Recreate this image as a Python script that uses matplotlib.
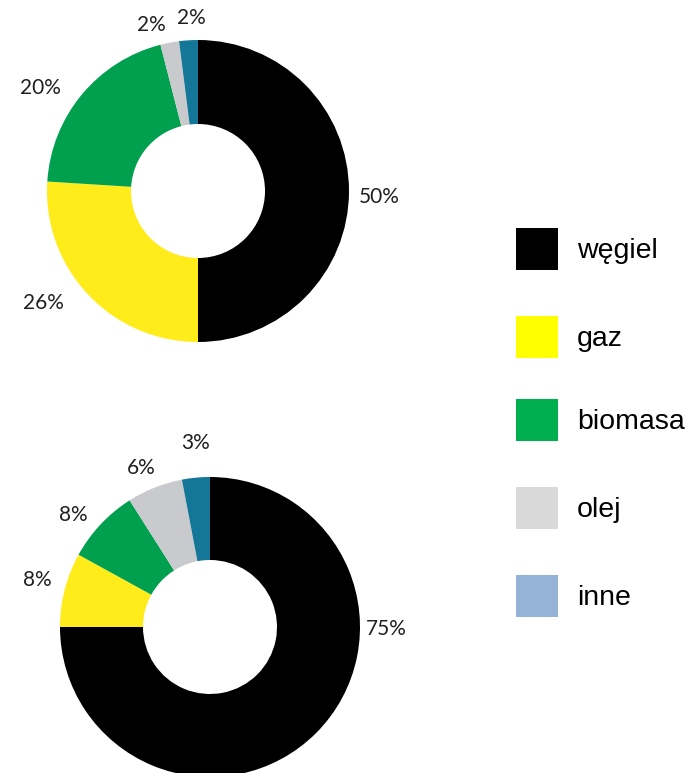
import matplotlib.pyplot as plt
from matplotlib.patches import Rectangle

# shares of fuels, clockwise from the top
fuels = ["węgiel", "gaz", "biomasa", "olej", "inne"]
top_shares = [50, 26, 20, 2, 2]
bottom_shares = [75, 8, 8, 6, 3]

ring_colors = ["#000000", "#ffec1a", "#00a04f", "#c9cacd", "#147797"]
legend_colors = ["#000000", "#ffff00", "#00b050", "#d9d9d9", "#95b3d7"]

W, H = 691, 773
fig = plt.figure(figsize=(W / 100, H / 100), dpi=100)
ax = fig.add_axes([0, 0, 1, 1])

# pixel layout: (center x, center y from top, outer radius, inner radius)
rings = [
    (top_shares, (198, 191), 151, 67,
     [(379, 197), (43, 303), (40, 88), (151, 25), (191, 18)]),
    (bottom_shares, (210, 627), 150, 67,
     [(386, 629), (37, 580), (73, 515), (141, 468), (196, 443)]),
]

for shares, (cx, cy), r_out, r_in, label_pos in rings:
    ax.pie(shares, colors=ring_colors, startangle=90, counterclock=False,
           center=(cx, H - cy), radius=r_out,
           wedgeprops=dict(width=r_out - r_in, edgecolor="none", linewidth=0))
    for val, (lx, ly) in zip(shares, label_pos):
        ax.text(lx, H - ly, f"{val}%", ha="center", va="center",
                fontsize=15, family="Lato", color="#231f20")

# legend drawn as plain squares with labels
leg_y = [249, 337, 420, 508, 596]
for name, col, ly in zip(fuels, legend_colors, leg_y):
    ax.add_patch(Rectangle((516, H - ly - 21), 42, 42, facecolor=col,
                           edgecolor="none"))
    ax.text(577, H - ly - 2, name, ha="left", va="center", fontsize=20.5,
            family="Liberation Sans", color="#000000")

ax.set_xlim(0, W)
ax.set_ylim(0, H)
ax.set_aspect("auto")
ax.axis("off")

fig.savefig("out.png", dpi=100)
